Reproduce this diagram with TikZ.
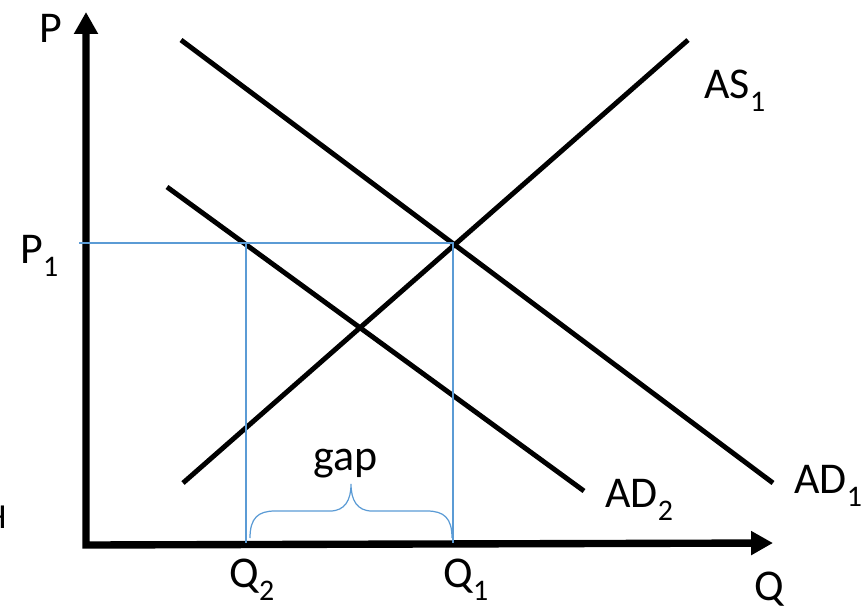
\documentclass[tikz,border=0pt]{standalone}
\usepackage{fontspec}
\setmainfont{Carlito}
\usetikzlibrary{arrows.meta}
\definecolor{cblue}{HTML}{5B9BD5}
\newcommand{\low}[1]{\raisebox{-7.4pt}{\fontsize{17}{18}\selectfont #1}}
\tikzset{
  every picture/.style={x=0.02cm, y=-0.02cm, line width=2.8pt},
  axis/.style={line width=4.2pt, line join=miter,
    {Triangle[length=12.5pt, width=13pt]}-{Triangle[length=12.5pt, width=13pt]}},
  curve/.style={line width=2.8pt},
  guide/.style={draw=cblue, line width=0.7pt},
  lbl/.style={font=\fontsize{25}{29}\selectfont, anchor=base west, inner sep=0pt},
}

\begin{document}
\begin{tikzpicture}
  \useasboundingbox (0,0) rectangle (864,605);
  % axes
  \coordinate (o) at (86,545);
  \coordinate (ptop) at (86,12);
  \coordinate (qend) at (773,543);
  \draw[axis] (ptop) -- (o) -- (qend);
  % curves
  \coordinate (as1a) at (183,483);
  \coordinate (as1b) at (688,40);
  \coordinate (ad1a) at (181,40);
  \coordinate (ad1b) at (773,483);
  \coordinate (ad2a) at (167,187);
  \coordinate (ad2b) at (584,491);
  \foreach \a/\b in {as1a/as1b, ad1a/ad1b, ad2a/ad2b} \draw[curve] (\a) -- (\b);
  % guide lines
  \coordinate (e1) at (453,243);
  \coordinate (p1) at (79,243);
  \coordinate (q1) at (453,543);
  \coordinate (e2) at (246,243);
  \coordinate (q2) at (246,543);
  \draw[guide] (p1) -- (e1) -- (q1);
  \draw[guide] (e2) -- (q2);
  % brace
  \coordinate (bl) at (250,538);
  \coordinate (br) at (452,538);
  \coordinate (btip) at (351,484);
  \draw[guide] (bl) .. controls (250,518) and (258,511) .. (275,511) -- (330,511)
    .. controls (345,511) and (351,500) .. (btip)
    .. controls (351,500) and (357,511) .. (372,511) -- (427,511)
    .. controls (444,511) and (452,518) .. (br);
  % labels
  \node[lbl] (lp) at (37,42) {P};
  \node[lbl] (lp1) at (18,263) {P\low{1}};
  \node[lbl] (las1) at (702,98) {AS\low{1}};
  \node[lbl] (lad1) at (792,493) {AD\low{1}};
  \node[lbl] (lad2) at (603,507) {AD\low{2}};
  \node[lbl] (lgap) at (311,470) {gap};
  \node[lbl] (lq2) at (227,587) {Q\low{2}};
  \node[lbl] (lq1) at (441,587) {Q\low{1}};
  \node[lbl] (lq) at (752,600) {Q};
  \node[font=\fontsize{20}{22}\selectfont, anchor=base east, inner sep=0pt] (lh) at (9,528) {H};
\end{tikzpicture}
\end{document}
